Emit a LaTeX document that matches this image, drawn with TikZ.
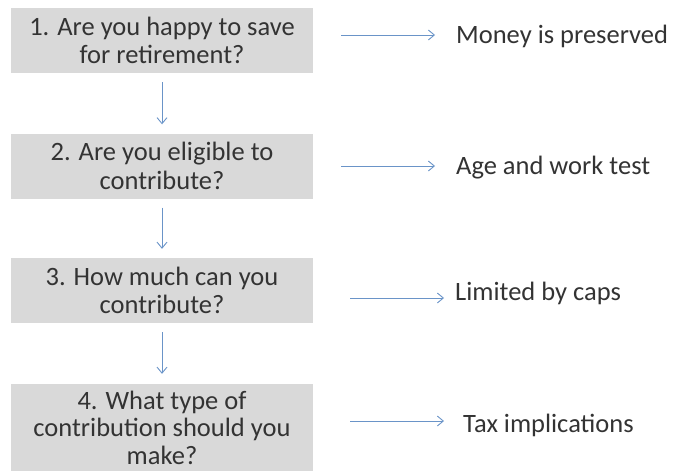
\documentclass[tikz,border=0pt]{standalone}
\usepackage{fontspec}
\setmainfont{Carlito}
\usetikzlibrary{arrows.meta}
\definecolor{boxgray}{HTML}{D9D9D9}
\definecolor{txtgray}{HTML}{333333}
\definecolor{arrblue}{HTML}{6A94C8}
\begin{document}
\begin{tikzpicture}[x=1pt,y=-1pt,
  question/.style={fill=boxgray, text=txtgray, minimum width=302pt, minimum height=65pt,
    align=center, inner sep=0pt, font=\fontsize{26.5}{28.5}\selectfont},
  answer/.style={anchor=west, text=txtgray, inner sep=0pt, font=\fontsize{26.5}{28.5}\selectfont},
  arr/.style={draw=arrblue, line width=0.9pt, -{Straight Barb[length=6pt,width=10pt]}}]

% Cadre de l'image
\useasboundingbox (0,0) rectangle (676,471);

% Questions
\node[question] (q1) at (162,40.5) {1. Are you happy to save\\for retirement?};
\node[question] (q2) at (162,166) {2. Are you eligible to\\contribute?};
\node[question] (q3) at (162,290.5) {3. How much can you\\contribute?};
\node[question, minimum height=87pt, font=\fontsize{26.5}{27.5}\selectfont] (q4) at (162,427.5) {4. What type of\\contribution should you\\make?};

% Réponses
\node[answer] (a1) at (456,36) {Money is preserved};
\node[answer] (a2) at (456,168) {Age and work test};
\node[answer] (a3) at (455,293) {Limited by caps};
\node[answer] (a4) at (463,425) {Tax implications};

% Flèches verticales
\draw[arr, shorten <=9pt, shorten >=9pt] (q1.south) -- (q2.north);
\draw[arr, shorten <=9pt, shorten >=9pt] (q2.south) -- (q3.north);
\draw[arr, shorten <=9pt, shorten >=10pt] (q3.south) -- (q4.north);

% Flèches horizontales
\draw[arr] ([xshift=28pt,yshift=1pt]a1.west -| q1.east) -- ([xshift=-21pt,yshift=1pt]a1.west);
\draw[arr] ([xshift=28pt,yshift=2pt]a2.west -| q2.east) -- ([xshift=-21pt,yshift=2pt]a2.west);
\draw[arr] ([xshift=37pt,yshift=-5pt]a3.west -| q3.east) -- ([xshift=-11pt,yshift=-5pt]a3.west);
\draw[arr] ([xshift=37pt,yshift=4pt]a4.west -| q4.east) -- ([xshift=-19pt,yshift=4pt]a4.west);

\end{tikzpicture}
\end{document}
